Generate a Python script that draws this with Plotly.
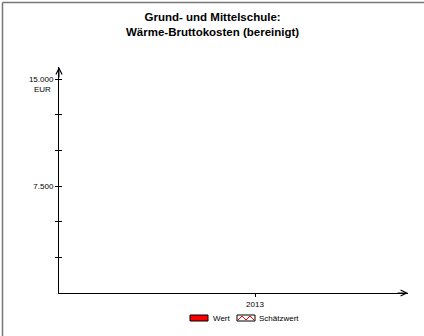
import plotly.graph_objects as go

# ---- data ----
title_lines = ["Grund- und Mittelschule:", "Wärme-Bruttokosten (bereinigt)"]
years = ["2013"]
wert = [None]
schaetzwert = [None]
y_tickvals = [2500, 5000, 7500, 10000, 12500, 15000]
y_ticktext = ["", "", "7.500", "", "", "15.000"]
unit = "EUR"
legend_labels = ["Wert", "Schätzwert"]

W, H = 424, 336
L, R, T, B = 59, 408, 67, 293
YMAX = 15000 * (B - T) / (B - 79)

def px(x):
    return (x - L) / (R - L)

def py(y):
    return (B - y) / (B - T)

font = "Liberation Sans, Arial, sans-serif"

fig = go.Figure()
fig.add_trace(go.Bar(x=years, y=wert, name=legend_labels[0], marker_color="red",
                     showlegend=False))
fig.add_trace(go.Bar(x=years, y=schaetzwert, name=legend_labels[1], marker_color="white",
                     showlegend=False))
fig.add_trace(go.Scatter(x=years, y=[None], yaxis="y2", showlegend=False))

shapes = []
# frame (left + top)
shapes.append(dict(type="line", xref="paper", yref="paper", x0=px(2.5), x1=px(2.5), y0=py(2.5), y1=py(340),
                   line=dict(color="#777", width=1.5)))
shapes.append(dict(type="line", xref="paper", yref="paper", x0=px(2.5), x1=px(430), y0=py(2.5), y1=py(2.5),
                   line=dict(color="#777", width=1.5)))
# legend symbols
shapes.append(dict(type="rect", xref="paper", yref="paper", x0=px(190), x1=px(208), y0=py(315), y1=py(321),
                   fillcolor="red", line=dict(color="black", width=1)))
shapes.append(dict(type="rect", xref="paper", yref="paper", x0=px(237), x1=px(255), y0=py(315), y1=py(321),
                   fillcolor="white", line=dict(color="black", width=1)))
zig = [(238, 320), (242, 316), (246, 320), (250, 316), (254, 320)]
path = "M " + " L ".join(f"{px(a)},{py(b)}" for a, b in zig)
shapes.append(dict(type="path", xref="paper", yref="paper", path=path,
                   line=dict(color="red", width=1)))

annotations = [
    dict(text="<b>" + "<br>".join(title_lines) + "</b>", xref="paper", yref="paper",
         x=px(212), y=py(25), xanchor="center", yanchor="middle", showarrow=False,
         font=dict(size=11.5, color="black", family=font)),
    dict(text=unit, xref="paper", yref="y", x=0, y=15000, xanchor="right", yanchor="middle",
         xshift=-6, yshift=-10, showarrow=False, font=dict(size=8, color="black", family=font)),
    dict(text=legend_labels[0], xref="paper", yref="paper", x=px(211), y=py(318), xanchor="left",
         yanchor="middle", showarrow=False, font=dict(size=8, color="black", family=font)),
    dict(text=legend_labels[1], xref="paper", yref="paper", x=px(257), y=py(318), xanchor="left",
         yanchor="middle", showarrow=False, font=dict(size=8, color="black", family=font)),
    # arrows
    dict(text="", xref="paper", yref="paper", x=1, y=0, ax=-12, ay=0, showarrow=True,
         arrowhead=5, arrowsize=1.2, arrowwidth=1, arrowcolor="black"),
    dict(text="", xref="paper", yref="paper", x=0, y=1, ax=0, ay=12, showarrow=True,
         arrowhead=5, arrowsize=1.2, arrowwidth=1, arrowcolor="black"),
]

fig.update_layout(
    width=W, height=H,
    margin=dict(l=L, r=W - R, t=T, b=H - B, pad=0),
    paper_bgcolor="white", plot_bgcolor="white",
    showlegend=False,
    font=dict(family=font, size=8, color="black"),
    xaxis=dict(type="category", categoryorder="array", categoryarray=years,
               range=[-1, (R - 255) / (255 - L)], showgrid=False, zeroline=False,
               showline=True, linecolor="black", linewidth=1,
               ticks="outside", ticklen=3, tickcolor="black",
               tickfont=dict(size=8, family=font)),
    yaxis=dict(range=[0, YMAX], tickvals=y_tickvals, ticktext=y_ticktext,
               showgrid=False, zeroline=False, showline=True, linecolor="black", linewidth=1,
               ticks="outside", ticklen=3, tickcolor="black",
               tickfont=dict(size=8, family=font)),
    yaxis2=dict(range=[0, YMAX], overlaying="y", side="left", anchor="x",
                tickvals=y_tickvals, showticklabels=False, ticks="inside", ticklen=3,
                tickcolor="black", showgrid=False, zeroline=False, showline=False),
    shapes=shapes,
    annotations=annotations,
)

fig.write_html("out.html", config={"displayModeBar": False},
               post_script="document.body.style.margin='0';document.body.style.overflow='hidden';")
